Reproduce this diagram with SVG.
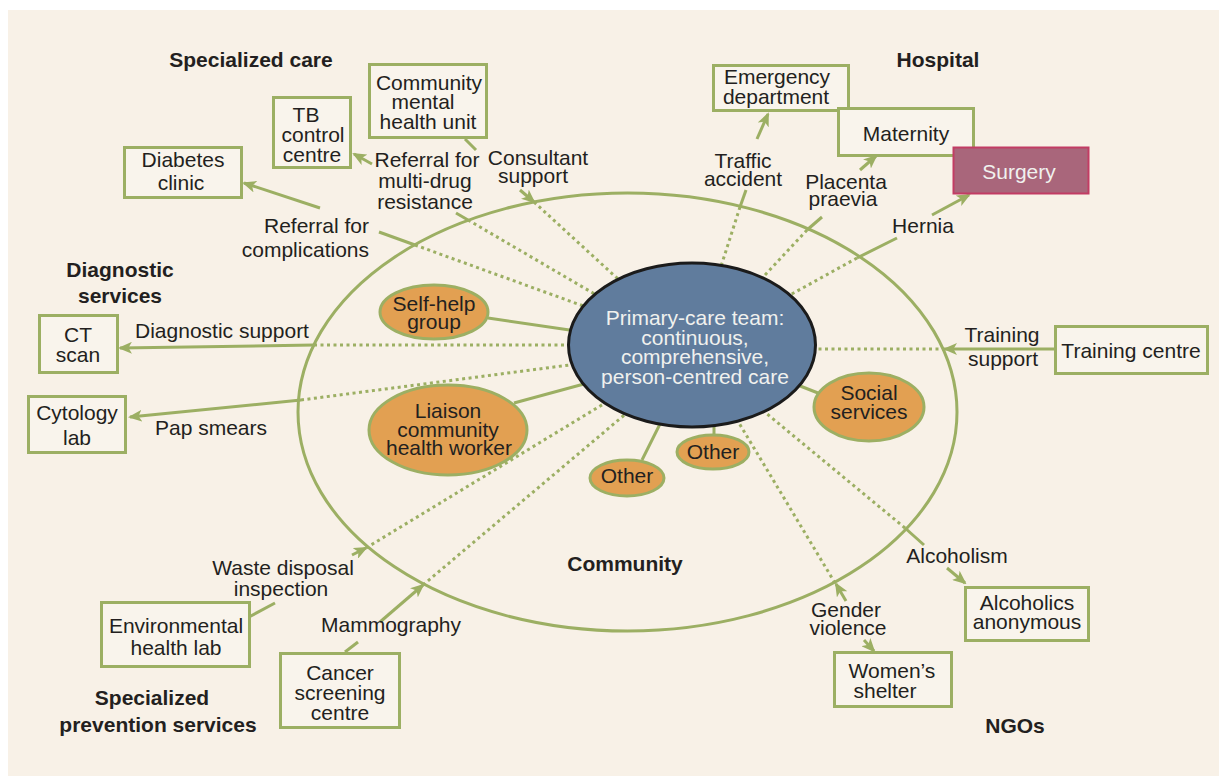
<svg xmlns="http://www.w3.org/2000/svg" width="1219" height="776" viewBox="0 0 1219 776">
<defs>
<style>
text{font-family:"Liberation Sans",Arial,sans-serif;font-size:21px;fill:#231f20;text-anchor:middle}
.b{font-weight:bold}
.w{fill:#f0f1ee}
.box{fill:#f9f4ec;stroke:#9caf63;stroke-width:3}
.bub{fill:#e2a052;stroke:#9caf63;stroke-width:3}
.ln{fill:none;stroke:#9caf63;stroke-width:3}
.dot{fill:none;stroke:#9caf63;stroke-width:3;stroke-dasharray:3 3.5}
.ar{marker-end:url(#ah)}
</style>
<marker id="ah" viewBox="0 0 14 12" refX="12" refY="6" markerWidth="14" markerHeight="12" markerUnits="userSpaceOnUse" orient="auto">
<path d="M0,0 L14,6 L0,12 L3.5,6 z" fill="#9caf63"/>
</marker>
</defs>
<rect x="0" y="0" width="1219" height="776" fill="#ffffff"/>
<rect x="8" y="10" width="1211" height="766" fill="#f8f1e7"/>

<g id="community">
<ellipse cx="627.5" cy="412" rx="329.5" ry="219" class="ln"/>
<text class="b" x="625" y="571">Community</text>
</g>

<g id="titles">
<text class="b" x="251" y="67">Specialized care</text>
<text class="b" x="938" y="67">Hospital</text>
<text class="b"><tspan x="120" y="277">Diagnostic</tspan><tspan x="120" y="303">services</tspan></text>
<text class="b"><tspan x="152" y="705">Specialized</tspan><tspan x="158" y="732">prevention services</tspan></text>
<text class="b" x="1015" y="733">NGOs</text>
</g>

<g id="connectors">
<!-- Referral for complications -->
<line class="dot" x1="415" y1="245" x2="600" y2="312"/>
<line class="ln" x1="415" y1="245" x2="379" y2="232"/>
<line class="ln ar" x1="320" y1="208" x2="244" y2="183"/>
<text style="text-anchor:end"><tspan x="369" y="233">Referral for</tspan><tspan x="369" y="257">complications</tspan></text>
<!-- Referral for multi-drug resistance -->
<line class="dot" x1="468" y1="220" x2="610" y2="303"/>
<line class="ln" x1="456" y1="213" x2="468" y2="220"/>
<line class="ln ar" x1="372" y1="164" x2="354" y2="154"/>
<text><tspan x="427" y="167">Referral for</tspan><tspan x="425" y="188">multi-drug</tspan><tspan x="425" y="209">resistance</tspan></text>
<!-- Consultant support -->
<line class="ln" x1="465" y1="139" x2="476" y2="150"/>
<line class="ln ar" x1="520" y1="190" x2="534" y2="202"/>
<line class="dot" x1="534" y1="202" x2="630" y2="290"/>
<text><tspan x="538" y="165">Consultant</tspan><tspan x="533" y="183">support</tspan></text>
<!-- Traffic accident -->
<line class="dot" x1="740" y1="207" x2="716" y2="282"/>
<line class="ln" x1="740" y1="207" x2="746" y2="190"/>
<line class="ln ar" x1="757" y1="139" x2="768" y2="114"/>
<text><tspan x="743" y="168">Traffic</tspan><tspan x="743" y="186">accident</tspan></text>
<!-- Placenta praevia -->
<line class="dot" x1="807" y1="230" x2="750" y2="291"/>
<line class="ln" x1="807" y1="230" x2="822" y2="217"/>
<line class="ln ar" x1="860" y1="170" x2="876" y2="156"/>
<text><tspan x="846" y="189">Placenta</tspan><tspan x="843" y="206">praevia</tspan></text>
<!-- Hernia -->
<line class="dot" x1="857" y1="258" x2="770" y2="306"/>
<line class="ln" x1="857" y1="258" x2="897" y2="238"/>
<line class="ln ar" x1="932" y1="215" x2="969" y2="195"/>
<text x="923" y="233">Hernia</text>
<!-- Diagnostic support -->
<line class="dot" x1="314" y1="345" x2="600" y2="345"/>
<line class="ln ar" x1="314" y1="345" x2="120" y2="348"/>
<text x="222" y="338">Diagnostic support</text>
<!-- Pap smears -->
<line class="dot" x1="301" y1="400" x2="600" y2="361"/>
<line class="ln ar" x1="301" y1="400" x2="130" y2="417"/>
<text x="211" y="435">Pap smears</text>
<!-- Training support -->
<line class="dot" x1="945" y1="349" x2="800" y2="349"/>
<line class="ln ar" x1="1055" y1="349" x2="945" y2="349"/>
<text><tspan x="1002" y="342">Training</tspan><tspan x="1003" y="366">support</tspan></text>
<!-- Waste disposal inspection -->
<line class="dot" x1="366" y1="548" x2="615" y2="397"/>
<line class="ln" x1="249" y1="617" x2="275" y2="603"/>
<line class="ln ar" x1="352" y1="555" x2="366" y2="548"/>
<text><tspan x="283" y="575">Waste disposal</tspan><tspan x="281" y="596">inspection</tspan></text>
<!-- Mammography -->
<line class="dot" x1="423" y1="585" x2="635" y2="406"/>
<line class="ln" x1="345" y1="652" x2="358" y2="642"/>
<line class="ln ar" x1="380" y1="622" x2="423" y2="585"/>
<text x="391" y="632">Mammography</text>
<!-- Gender violence -->
<line class="dot" x1="835" y1="583" x2="733" y2="413"/>
<line class="ln ar" x1="846" y1="601" x2="836" y2="584"/>
<line class="ln ar" x1="864" y1="640" x2="874" y2="651"/>
<text><tspan x="846" y="617">Gender</tspan><tspan x="848" y="635">violence</tspan></text>
<!-- Alcoholism -->
<line class="dot" x1="905" y1="528" x2="755" y2="404"/>
<line class="ln" x1="905" y1="528" x2="924" y2="545"/>
<line class="ln ar" x1="947" y1="568" x2="965" y2="583"/>
<text x="957" y="563">Alcoholism</text>
<!-- team links -->
<line class="ln" x1="488" y1="318" x2="590" y2="333"/>
<line class="ln" x1="514" y1="403" x2="595" y2="381"/>
<line class="ln" x1="642" y1="460" x2="662" y2="420"/>
<line class="ln" x1="714" y1="435" x2="714" y2="420"/>
<line class="ln" x1="790" y1="382" x2="818" y2="393"/>
</g>

<g id="primary-care-team">
<ellipse cx="692" cy="345" rx="123.5" ry="82" fill="#607c9d" stroke="#1b1b1b" stroke-width="3"/>
<text class="w"><tspan x="695" y="325">Primary-care team:</tspan><tspan x="695" y="345">continuous,</tspan><tspan x="695" y="364">comprehensive,</tspan><tspan x="695" y="384">person-centred care</tspan></text>
</g>

<g id="self-help-group">
<ellipse class="bub" cx="434" cy="312" rx="54" ry="27"/>
<text><tspan x="434" y="311">Self-help</tspan><tspan x="434" y="329">group</tspan></text>
</g>
<g id="liaison-chw">
<ellipse class="bub" cx="448" cy="430" rx="79" ry="45"/>
<text><tspan x="448" y="418">Liaison</tspan><tspan x="448" y="437">community</tspan><tspan x="449" y="455">health worker</tspan></text>
</g>
<g id="other-1">
<ellipse class="bub" cx="627" cy="478" rx="37" ry="18"/>
<text x="627" y="483">Other</text>
</g>
<g id="other-2">
<ellipse class="bub" cx="713" cy="452" rx="36" ry="17"/>
<text x="713" y="459">Other</text>
</g>
<g id="social-services">
<ellipse class="bub" cx="869" cy="407" rx="55" ry="34"/>
<text><tspan x="869" y="400">Social</tspan><tspan x="869" y="419">services</tspan></text>
</g>

<g id="community-mental-health-unit">
<rect class="box" x="369.5" y="64.5" width="117" height="73"/>
<text><tspan x="429" y="90">Community</tspan><tspan x="423" y="109">mental</tspan><tspan x="428" y="129">health unit</tspan></text>
</g>
<g id="tb-control-centre">
<rect class="box" x="273.5" y="97.5" width="77" height="70"/>
<text><tspan x="306" y="122">TB</tspan><tspan x="313" y="142">control</tspan><tspan x="312" y="162">centre</tspan></text>
</g>
<g id="diabetes-clinic">
<rect class="box" x="124.5" y="147.5" width="117" height="50"/>
<text><tspan x="183" y="167">Diabetes</tspan><tspan x="181" y="190">clinic</tspan></text>
</g>
<g id="ct-scan">
<rect class="box" x="39.5" y="315.5" width="78" height="57"/>
<text><tspan x="78" y="342">CT</tspan><tspan x="78" y="362">scan</tspan></text>
</g>
<g id="cytology-lab">
<rect class="box" x="28.5" y="396.5" width="97" height="56"/>
<text><tspan x="77" y="420">Cytology</tspan><tspan x="77" y="445">lab</tspan></text>
</g>
<g id="emergency-department">
<rect class="box" x="713.5" y="65.5" width="135" height="45"/>
<text><tspan x="777" y="84">Emergency</tspan><tspan x="776" y="104">department</tspan></text>
</g>
<g id="maternity">
<rect class="box" x="838.5" y="108.5" width="135" height="47"/>
<text x="906" y="141">Maternity</text>
</g>
<g id="surgery">
<rect x="953.5" y="147.5" width="135" height="46" fill="#a9667b" stroke="#c23c64" stroke-width="2"/>
<text class="w" x="1019" y="179">Surgery</text>
</g>
<g id="training-centre">
<rect class="box" x="1055.5" y="326.5" width="152" height="47"/>
<text x="1131" y="358">Training centre</text>
</g>
<g id="alcoholics-anonymous">
<rect class="box" x="965.5" y="587.5" width="123" height="53"/>
<text><tspan x="1027" y="610">Alcoholics</tspan><tspan x="1027" y="629">anonymous</tspan></text>
</g>
<g id="womens-shelter">
<rect class="box" x="834.5" y="652.5" width="117" height="54"/>
<text><tspan x="892" y="678">Women’s</tspan><tspan x="885" y="698">shelter</tspan></text>
</g>
<g id="environmental-health-lab">
<rect class="box" x="101.5" y="602.5" width="148" height="64"/>
<text><tspan x="176" y="633">Environmental</tspan><tspan x="176" y="655">health lab</tspan></text>
</g>
<g id="cancer-screening-centre">
<rect class="box" x="280.5" y="653.5" width="119" height="74"/>
<text><tspan x="340" y="680">Cancer</tspan><tspan x="340" y="700">screening</tspan><tspan x="340" y="720">centre</tspan></text>
</g>
</svg>
